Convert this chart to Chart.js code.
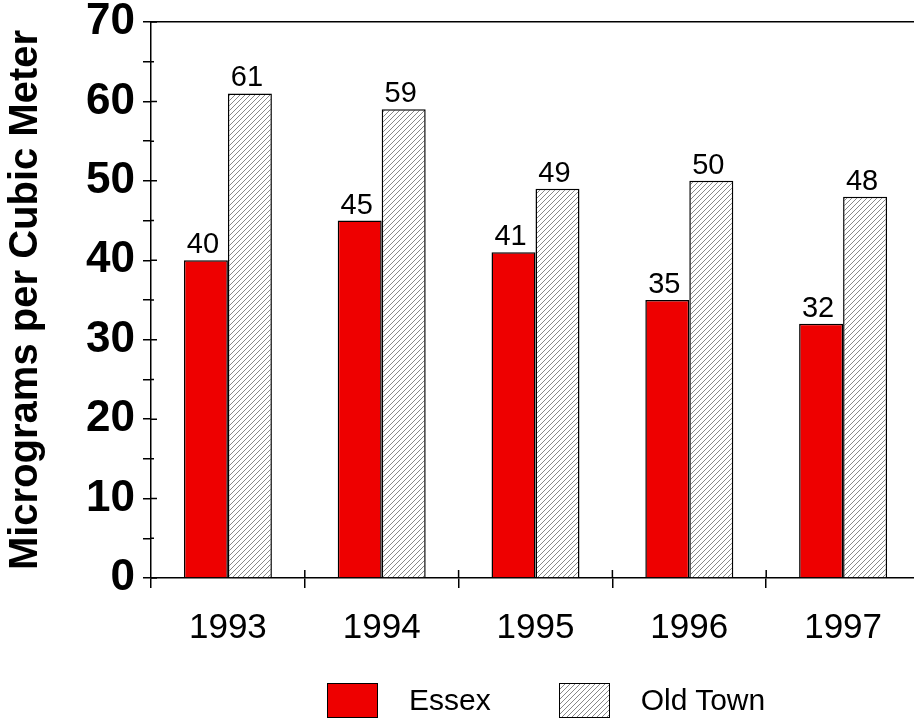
<!DOCTYPE html>
<html lang="en">
<head>
<meta charset="UTF-8">
<title>Micrograms per Cubic Meter</title>
<style>
  html, body { margin: 0; padding: 0; background: #fff; overflow: hidden; }
  .wrap { position: relative; width: 925px; height: 722px; }
  #legend {
    position: absolute; left: 327px; top: 682px; height: 36px;
    display: flex; align-items: center;
    font-family: "Liberation Sans", Arial, sans-serif; font-size: 30px; color: #000;
  }
  #legend .box { width: 49px; height: 33px; border: 1.5px solid #000; }
  #legend .txt { margin-left: 31px; margin-right: 68px; line-height: 36px; }
</style>
</head>
<body>
<div class="wrap">
  <canvas id="chart" width="925" height="722"></canvas>
  <div id="legend"></div>
</div>
<script src="https://cdn.jsdelivr.net/npm/chart.js"></script>
<script>
  const years = ['1993', '1994', '1995', '1996', '1997'];
  const essex = [40, 45, 41, 35, 32];
  const oldTown = [61, 59, 49, 50, 48];
  const yTitle = 'Micrograms per Cubic Meter';
  const seriesNames = ['Essex', 'Old Town'];

  const FONT = '"Liberation Sans", Arial, sans-serif';

  // diagonal hatch for Old Town
  function makeHatch() {
    const c = document.createElement('canvas');
    c.width = 5; c.height = 5;
    const g = c.getContext('2d');
    g.fillStyle = '#fff';
    g.fillRect(0, 0, 5, 5);
    g.strokeStyle = '#888';
    g.lineWidth = 1;
    g.beginPath();
    g.moveTo(0, 5); g.lineTo(5, 0);
    g.moveTo(-1, 1); g.lineTo(1, -1);
    g.moveTo(4, 6); g.lineTo(6, 4);
    g.stroke();
    return c;
  }
  const hatchCanvas = makeHatch();
  const hatch = document.getElementById('chart').getContext('2d').createPattern(hatchCanvas, 'repeat');

  // numbers above the bars
  const valueLabels = {
    id: 'valueLabels',
    afterDatasetsDraw(chart) {
      const ctx = chart.ctx;
      ctx.save();
      ctx.font = '29px ' + FONT;
      ctx.fillStyle = '#000';
      ctx.textAlign = 'center';
      ctx.textBaseline = 'alphabetic';
      chart.data.datasets.forEach((ds, i) => {
        chart.getDatasetMeta(i).data.forEach((bar, j) => {
          ctx.fillText(ds.data[j], bar.x - 3, bar.y - 7);
        });
      });
      ctx.restore();
    }
  };

  // tick marks also poke inside the plot, like the original
  const innerTicks = {
    id: 'innerTicks',
    afterDraw(chart) {
      const ctx = chart.ctx;
      const {x, y} = chart.scales;
      ctx.save();
      ctx.strokeStyle = '#000';
      ctx.lineWidth = 1.5;
      ctx.beginPath();
      y.ticks.forEach(t => {
        const py = y.getPixelForValue(t.value);
        ctx.moveTo(y.right, py);
        ctx.lineTo(y.right + (t.value % 10 === 0 ? 6 : 3), py);
      });
      const step = x.width / years.length;
      for (let i = 1; i < years.length; i++) {
        ctx.moveTo(x.left + i * step, x.top);
        ctx.lineTo(x.left + i * step, x.top - 8);
      }
      ctx.stroke();
      ctx.restore();
    }
  };

  const chart = new Chart(document.getElementById('chart'), {
    type: 'bar',
    data: {
      labels: years,
      datasets: [
        { label: seriesNames[0], data: essex, backgroundColor: '#ee0000', borderColor: '#000', borderWidth: 1.5,
          categoryPercentage: 0.572, barPercentage: 1 },
        { label: seriesNames[1], data: oldTown, backgroundColor: hatch, borderColor: '#000', borderWidth: 1.5,
          categoryPercentage: 0.572, barPercentage: 1 }
      ]
    },
    options: {
      responsive: false,
      animation: false,
      devicePixelRatio: 1,
      layout: { padding: { top: 22, right: 5, left: 0, bottom: 0 } },
      plugins: { legend: { display: false }, tooltip: { enabled: false } },
      scales: {
        x: {
          grid: { display: true, drawOnChartArea: false, color: '#000', lineWidth: 1.5, tickLength: 10 },
          border: { color: '#000', width: 1.5 },
          ticks: { color: '#000', font: { family: FONT, size: 35 }, padding: 19, maxRotation: 0 },
          afterFit(scale) { scale.height = 144; }
        },
        xTop: {
          type: 'category',
          position: 'top',
          grid: { display: false, drawTicks: false },
          ticks: { display: false },
          border: { color: '#000', width: 1.5 }
        },
        y: {
          min: 0, max: 70,
          grid: { drawOnChartArea: false, color: '#000', lineWidth: 1.5, tickLength: 8 },
          border: { color: '#000', width: 1.5 },
          ticks: {
            stepSize: 5, autoSkip: false, color: '#000', padding: 8,
            font: { family: FONT, size: 44, weight: 'bold', lineHeight: 0.6 },
            callback: v => (v % 10 === 0 ? v : '')
          },
          title: {
            display: true, text: yTitle, color: '#000',
            font: { family: FONT, size: 40, weight: 'bold', lineHeight: 1.2 },
            padding: { top: 2, bottom: 28 }
          },
          afterFit(scale) { scale.width = 151; }
        }
      }
    },
    plugins: [valueLabels, innerTicks]
  });

  // html legend built from the datasets
  const legend = document.getElementById('legend');
  const hatchUrl = hatchCanvas.toDataURL();
  chart.data.datasets.forEach((ds, i) => {
    const box = document.createElement('span');
    box.className = 'box';
    if (i === 0) box.style.background = ds.backgroundColor;
    else box.style.backgroundImage = 'url(' + hatchUrl + ')';
    const txt = document.createElement('span');
    txt.className = 'txt';
    txt.textContent = ds.label;
    legend.appendChild(box);
    legend.appendChild(txt);
  });
</script>
</body>
</html>
